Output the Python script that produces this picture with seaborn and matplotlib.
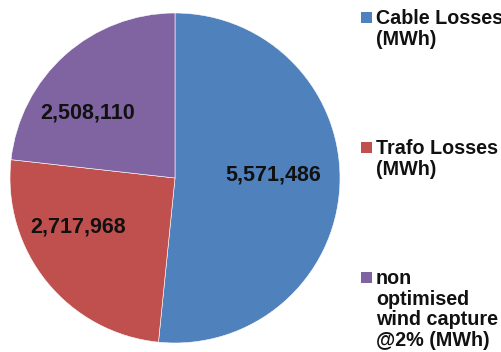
import matplotlib
matplotlib.use("Agg")
import matplotlib.pyplot as plt
from matplotlib.patches import Rectangle
import seaborn as sns

# Energy losses breakdown (MWh)
categories = ["Cable Losses\n(MWh)", "Trafo Losses\n(MWh)",
              "non\noptimised\nwind capture\n@2% (MWh)"]
values = [5571486, 2717968, 2508110]
colors = ["#4F81BD", "#C0504D", "#8064A2"]

sns.set_theme(style="white")
plt.rcParams["font.family"] = ["Liberation Sans", "DejaVu Sans"]

W, H = 502, 352
fig = plt.figure(figsize=(W / 100, H / 100), dpi=100)
fig.patch.set_facecolor("white")

# pie centre and radius in pixels
cx, cy, r = 175, 178, 165
ax = fig.add_axes([(cx - r) / W, (H - cy - r) / H, 2 * r / W, 2 * r / H])

palette = sns.color_palette(colors)
wedges, _, autotexts = ax.pie(
    values, colors=palette, startangle=90, counterclock=False,
    autopct=lambda p: f"{p * sum(values) / 100:,.0f}",
    pctdistance=0.62,
    wedgeprops=dict(edgecolor="white", linewidth=0.4),
    textprops=dict(fontsize=15.5, fontweight="bold", color="#111111"),
)
ax.set_xlim(-1, 1)
ax.set_ylim(-1, 1)
ax.set_aspect("equal")

# label placement inside each wedge (data units, radius = 1)
label_pos = [(0.594, 0.02), (-0.585, -0.30), (-0.53, 0.394)]
for t, (lx, ly) in zip(autotexts, label_pos):
    t.set_position((lx, ly))
    t.set_ha("center")
    t.set_va("center")

# legend: square marker aligned with the first line of each entry
leg_x_box, leg_x_text = 361, 376
first_baselines = [24, 154, 284]
line_step = 20.6
box = 11
for cat, col, b0 in zip(categories, palette, first_baselines):
    fig.patches.append(Rectangle(
        (leg_x_box / W, (H - b0 + 1) / H), box / W, box / H,
        transform=fig.transFigure, facecolor=col, edgecolor="none"))
    for i, line in enumerate(cat.split("\n")):
        fig.text(leg_x_text / W, (H - (b0 + i * line_step)) / H, line,
                 fontsize=14.2, fontweight="bold", color="#111111",
                 ha="left", va="baseline")

fig.savefig("out.png", dpi=100, facecolor="white")
